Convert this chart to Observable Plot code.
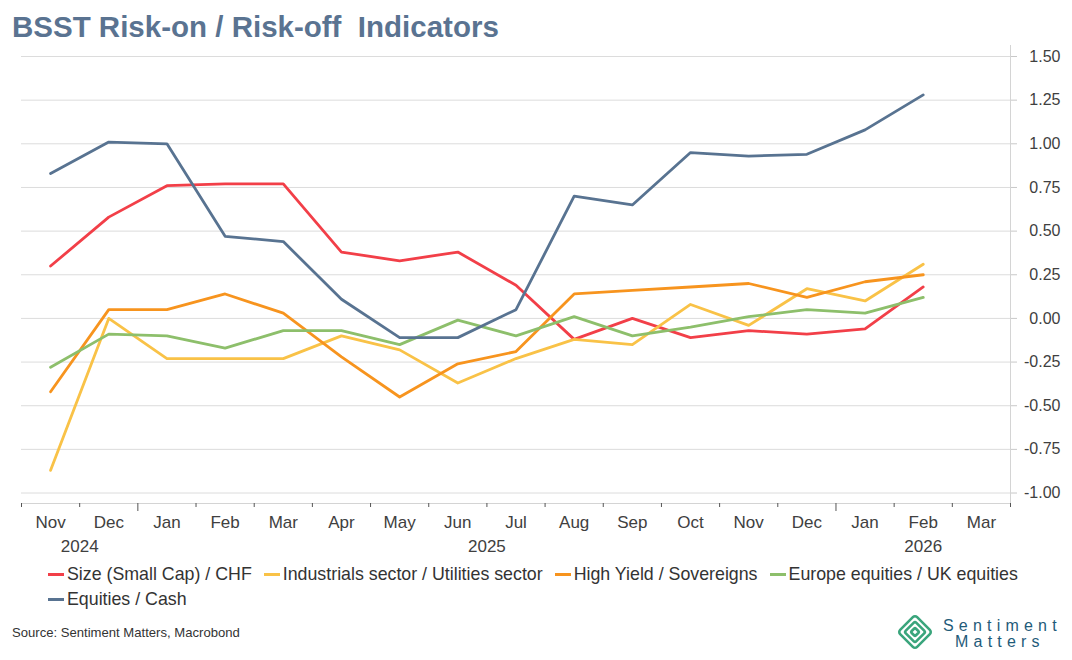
<!DOCTYPE html>
<html>
<head>
<meta charset="utf-8">
<script src="https://cdn.jsdelivr.net/npm/d3@7"></script>
<script src="https://cdn.jsdelivr.net/npm/@observablehq/plot@0.6"></script>
<style>
  html, body { margin: 0; padding: 0; background: #fff; }
  body { width: 1072px; height: 660px; position: relative; overflow: hidden; font-family: "Liberation Sans", Arial, sans-serif; }
  #title { position: absolute; left: 12px; top: 10px; font-size: 29.5px; font-weight: bold; color: #5a7391; white-space: pre; }
  #chart { position: absolute; left: 0; top: 36px; }
  #legend { position: absolute; left: 48px; top: 562px; width: 1020px; font-size: 17.8px; color: #333; line-height: 25px; }
  .item { display: inline-block; margin-right: 12px; white-space: nowrap; }
  .sw { display: inline-block; width: 16px; height: 3px; vertical-align: middle; margin-right: 3px; position: relative; top: -1px; }
  #source { position: absolute; left: 12px; top: 625px; font-size: 13.1px; color: #333; }
  #logo { position: absolute; left: 895px; top: 612px; }
</style>
</head>
<body>
<div id="title">BSST Risk-on / Risk-off  Indicators</div>
<div id="chart"></div>
<div id="legend"></div>
<div id="source">Source: Sentiment Matters, Macrobond</div>
<div id="logo">
  <svg width="175" height="42" viewBox="0 0 175 42">
    <g transform="translate(20,20) rotate(45)" fill="none" stroke="#3aa57c" stroke-width="2.6">
      <rect x="-12" y="-12" width="24" height="24" rx="3"/>
      <rect x="-7.5" y="-7.5" width="15" height="15" rx="2"/>
      <rect x="-3" y="-3" width="6" height="6" rx="1"/>
    </g>
    <text font-family="Liberation Sans, Arial, sans-serif" font-size="16" fill="#1f5b7a" letter-spacing="5.2"><tspan x="48" y="19">Sentiment</tspan><tspan x="60" y="35">Matters</tspan></text>
  </svg>
</div>
<script>
// ---- data ----
const months = ["Nov","Dec","Jan","Feb","Mar","Apr","May","Jun","Jul","Aug","Sep","Oct","Nov","Dec","Jan","Feb","Mar"];
const monthYears = ["2024","2024","2025","2025","2025","2025","2025","2025","2025","2025","2025","2025","2025","2025","2026","2026","2026"];
const seriesNames = ["Size (Small Cap) / CHF","Industrials sector / Utilities sector","High Yield / Sovereigns","Europe equities / UK equities","Equities / Cash"];
const seriesColors = ["#f23f48","#f9c247","#f7941e","#8dbf6b","#587391"];
const sizeCHF      = [0.30, 0.58, 0.76, 0.77, 0.77, 0.38, 0.33, 0.38, 0.19, -0.12, 0.00, -0.11, -0.07, -0.09, -0.06, 0.18];
const indUtil      = [-0.87, 0.00, -0.23, -0.23, -0.23, -0.10, -0.18, -0.37, -0.23, -0.12, -0.15, 0.08, -0.04, 0.17, 0.10, 0.31];
const hySov        = [-0.42, 0.05, 0.05, 0.14, 0.03, -0.22, -0.45, -0.26, -0.19, 0.14, 0.16, 0.18, 0.20, 0.12, 0.21, 0.25];
const euUk         = [-0.28, -0.09, -0.10, -0.17, -0.07, -0.07, -0.15, -0.01, -0.10, 0.01, -0.10, -0.05, 0.01, 0.05, 0.03, 0.12];
const eqCash       = [0.83, 1.01, 1.00, 0.47, 0.44, 0.11, -0.11, -0.11, 0.05, 0.70, 0.65, 0.95, 0.93, 0.94, 1.08, 1.28];
const yTicks = [-1.00, -0.75, -0.50, -0.25, 0.00, 0.25, 0.50, 0.75, 1.00, 1.25, 1.50];

const allSeries = [sizeCHF, indUtil, hySov, euUk, eqCash];
const data = allSeries.flatMap((vals, s) => vals.map((v, i) => ({series: seriesNames[s], i, v})));

const yDomain = [-1.06, 1.563];
const n = months.length;
const edges = d3.range(n + 1).map(i => i - 0.5);
const yearEdges = edges.filter((e, k) => k > 0 && k < n && monthYears[k] !== monthYears[k - 1]);
const minorEdges = edges.filter(e => !yearEdges.includes(e));
const yearGroups = d3.groups(d3.range(n), i => monthYears[i]).map(([label, idx]) => ({label, pos: d3.mean(idx)}));

const chart = Plot.plot({
  width: 1072,
  height: 524,
  marginLeft: 21,
  marginRight: 62,
  marginTop: 9,
  marginBottom: 57,
  style: {fontFamily: "Liberation Sans, Arial, sans-serif", overflow: "visible", background: "transparent"},
  x: {type: "linear", domain: [-0.5, n - 0.5], axis: null},
  y: {domain: yDomain, axis: null},
  color: {domain: seriesNames, range: seriesColors},
  marks: [
    Plot.ruleY(yTicks, {stroke: "#dcdcdc", strokeWidth: 1}),
    Plot.ruleX([n - 0.5], {stroke: "#d4d4d4", strokeWidth: 1}),
    Plot.ruleY([yDomain[0]], {stroke: "#d4d4d4", strokeWidth: 1}),
    Plot.axisY({anchor: "right", label: null, ticks: yTicks, tickFormat: d => d.toFixed(2), tickSize: 6, tickPadding: 44, textAnchor: "end", fontSize: 16, color: "#404040", stroke: "#c8c8c8"}),
    Plot.axisX({label: null, ticks: minorEdges, tickFormat: () => "", tickSize: 4, stroke: "#555"}),
    Plot.axisX({label: null, ticks: yearEdges, tickFormat: () => "", tickSize: 8, stroke: "#555"}),
    Plot.axisX({label: null, ticks: d3.range(n), tickFormat: i => months[i], tickSize: 0, tickPadding: 12, fontSize: 17, color: "#404040"}),
    Plot.text(yearGroups, {x: "pos", y: () => yDomain[0], text: "label", dy: 43, fontSize: 17, fill: "#404040", lineAnchor: "middle"}),
    Plot.line(data, {x: "i", y: "v", z: "series", stroke: "series", strokeWidth: 2.8, strokeLinejoin: "round"})
  ]
});
document.getElementById("chart").appendChild(chart);

const legend = document.getElementById("legend");
seriesNames.forEach((name, k) => {
  const it = document.createElement("span");
  it.className = "item";
  it.innerHTML = `<span class="sw" style="background:${seriesColors[k]}"></span>${name}`;
  legend.appendChild(it);
  if (k === 3) legend.appendChild(document.createElement("br"));
});
</script>
</body>
</html>
